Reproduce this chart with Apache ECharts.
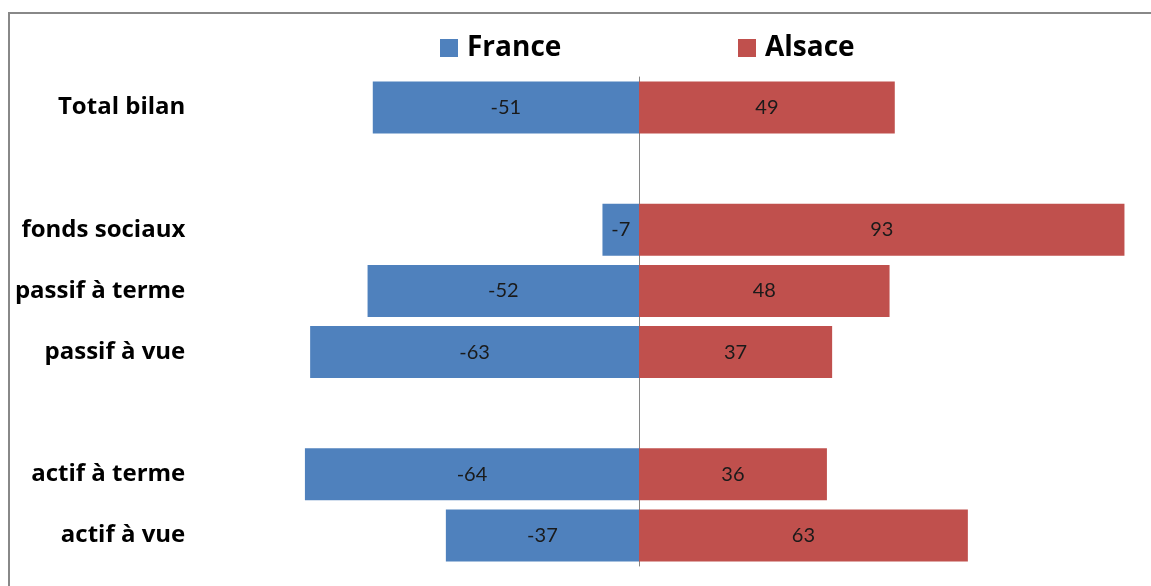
<!DOCTYPE html>
<html>
<head>
<meta charset="utf-8">
<script src="https://cdn.jsdelivr.net/npm/echarts@6/dist/echarts.min.js"></script>
<style>
html,body{margin:0;padding:0;background:#fff;overflow:hidden;}
#chart{width:1151px;height:586px;}
</style>
</head>
<body>
<div id="chart"></div>
<script>
const categories = ['Total bilan', ' ', 'fonds sociaux', 'passif à terme', 'passif à vue', '  ', 'actif à terme', 'actif à vue'];
const franceValues = [-51, null, -7, -52, -63, null, -64, -37];
const alsaceValues = [49, null, 93, 48, 37, null, 36, 63];
const seriesNames = ['France', 'Alsace'];

const chart = echarts.init(document.getElementById('chart'));
const labelStyle = {
  show: true,
  position: 'inside',
  color: '#1a1a1a',
  fontFamily: 'Lato',
  fontSize: 20
};
const legendText = { fontFamily: 'Open Sans', fontWeight: 'bold', fontSize: 28, color: '#000', padding: [0, 0, 0, 4] };
chart.setOption({
  animation: false,
  backgroundColor: '#fff',
  graphic: [{
    type: 'line',
    shape: { x1: 9, y1: 13, x2: 1151, y2: 13 },
    style: { stroke: '#888888', lineWidth: 2 },
    silent: true
  }, {
    type: 'line',
    shape: { x1: 9, y1: 12, x2: 9, y2: 586 },
    style: { stroke: '#888888', lineWidth: 2 },
    silent: true
  }],
  legend: [{
    data: [seriesNames[0]],
    left: 435, top: 29,
    itemWidth: 18, itemHeight: 18, itemGap: 9,
    icon: 'rect',
    textStyle: legendText
  }, {
    data: [seriesNames[1]],
    left: 733, top: 29,
    itemWidth: 18, itemHeight: 18, itemGap: 9,
    icon: 'rect',
    textStyle: legendText
  }],
  grid: { left: 195.3, width: 939.6, top: 77, height: 489 },
  xAxis: {
    type: 'value', min: -85, max: 95, show: false
  },
  yAxis: {
    type: 'category',
    inverse: true,
    data: categories,
    axisTick: { show: false },
    axisLine: { show: true, onZero: true, lineStyle: { color: '#868686', width: 1 } },
    axisLabel: {
      margin: 10,
      fontFamily: 'Open Sans', fontWeight: 'bold', fontSize: 24, color: '#000'
    },
    splitLine: { show: false }
  },
  series: [{
    name: seriesNames[0], type: 'bar', stack: 'all',
    data: franceValues,
    barCategoryGap: '15%',
    itemStyle: { color: '#4F81BD' },
    label: labelStyle
  }, {
    name: seriesNames[1], type: 'bar', stack: 'all',
    data: alsaceValues,
    barCategoryGap: '15%',
    itemStyle: { color: '#C0504D' },
    label: labelStyle
  }]
});
</script>
</body>
</html>
